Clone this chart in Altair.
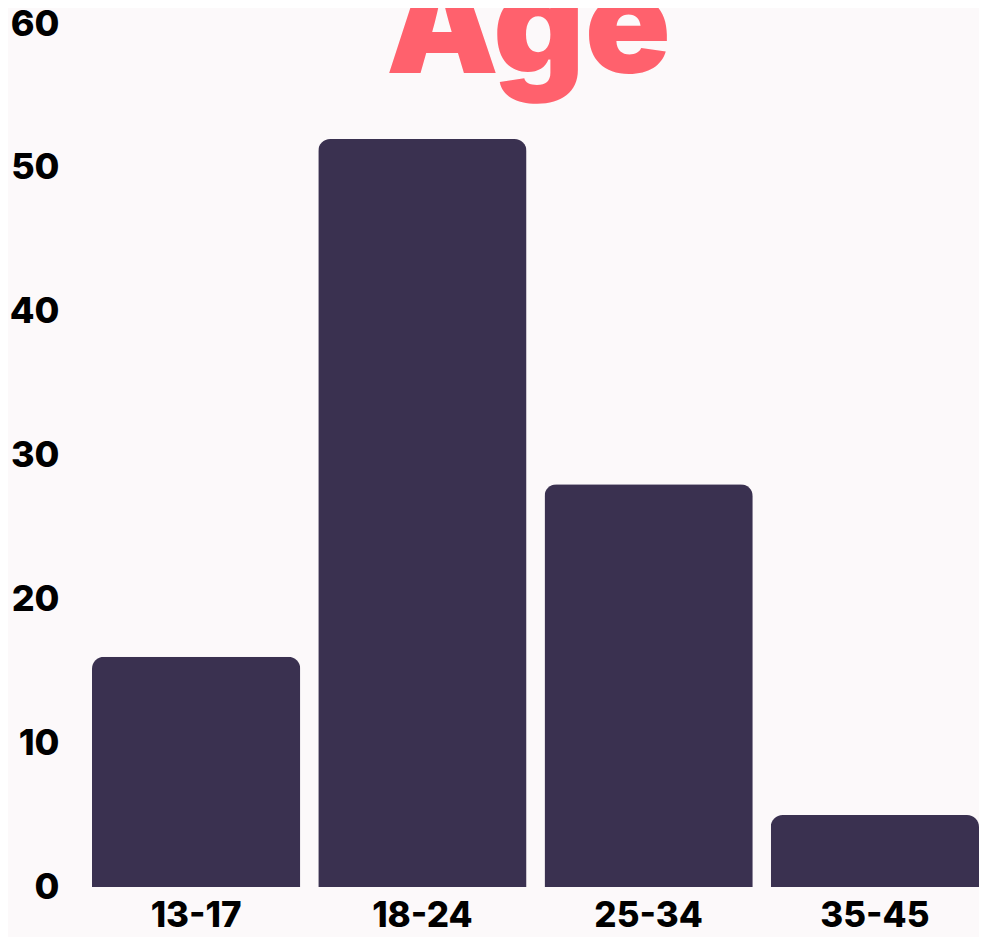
import altair as alt
import pandas as pd

categories = ["13-17", "18-24", "25-34", "35-45"]
values = [16, 52, 28, 5]
y_ticks = [0, 10, 20, 30, 40, 50, 60]
title_text = ["Age"]

df = pd.DataFrame({"age": categories, "count": values})
tdf = pd.DataFrame({"t": title_text})

FONT = "Inter"
W, H = 887, 863

bars = (
    alt.Chart(df)
    .mark_bar(color="#3a3150", cornerRadiusTopLeft=12, cornerRadiusTopRight=12)
    .encode(
        x=alt.X(
            "age:N",
            sort=categories,
            scale=alt.Scale(paddingInner=18 / 226.25, paddingOuter=0),
            axis=alt.Axis(
                title=None, labelAngle=0, domain=False, ticks=False,
                labelFont=FONT, labelFontWeight=800, labelFontSize=35,
                labelColor="#000000", labelPadding=11,
            ),
        ),
        y=alt.Y(
            "count:Q",
            scale=alt.Scale(domain=[0, 60], nice=False),
            axis=alt.Axis(
                title=None, values=y_ticks, grid=False, domain=False, ticks=False,
                labelFont=FONT, labelFontWeight=800, labelFontSize=36,
                labelColor="#000000", labelPadding=33,
            ),
        ),
    )
)

title = (
    alt.Chart(tdf)
    .mark_text(
        font=FONT, fontWeight=900, fontSize=142, color="#ff616d",
        align="center", baseline="alphabetic",
    )
    .encode(text="t:N", x=alt.value(436.5), y=alt.value(49))
)

chart = (
    alt.layer(bars, title)
    .properties(
        width=W,
        height=H,
        background="#fcf9fa",
        autosize=alt.AutoSizeParams(type="none"),
        padding={"left": 84, "top": 16, "right": 0, "bottom": 50},
    )
    .configure_view(stroke=None)
)

chart.save("out.html", embed_options={"renderer": "svg", "actions": False})
